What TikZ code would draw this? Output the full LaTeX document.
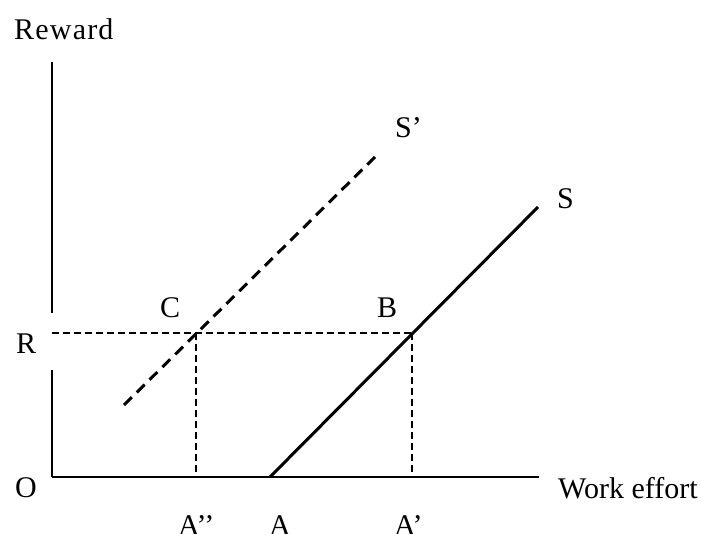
\documentclass[tikz,border=0pt]{standalone}
\usepackage{fontspec}
\setmainfont{Liberation Serif}
\begin{document}
\begin{tikzpicture}[x=1pt,y=-1pt,
  lbl/.style={anchor=base west,inner sep=0pt,font=\fontsize{30}{35}\selectfont},
  axisline/.style={line width=2pt},
  curve/.style={line width=3pt},
  guide/.style={line width=1.5pt,dash pattern=on 7pt off 4pt},
  shifted/.style={line width=3pt,dash pattern=on 11pt off 7pt}]
\useasboundingbox (0,0) rectangle (701,533);
% coordinates
\coordinate (O) at (52,477);
\coordinate (ytop) at (52,62);
\coordinate (ygapT) at (52,313);
\coordinate (ygapB) at (52,370);
\coordinate (xend) at (539,477);
\coordinate (A) at (270,477);
\coordinate (Send) at (538,207);
\coordinate (B) at (412,333);
\coordinate (C) at (196,333);
\coordinate (Rp) at (52,333);
\coordinate (App) at (196,477);
\coordinate (Ap) at (412,477);
\coordinate (Sp1) at (124,405);
\coordinate (Sp2) at (377,155);
% axes
\draw[axisline] (ytop) -- (ygapT);
\draw[axisline] (ygapB) -- (O);
\draw[axisline] (O) -- (xend);
% supply curves
\draw[curve] (A) -- (Send);
\draw[shifted] (Sp1) -- (Sp2);
% guides
\draw[guide] (Rp) -- (B);
\draw[guide] (C) -- (App);
\draw[guide] (B) -- (Ap);
% labels
\node[lbl,font=\fontsize{30}{35}\selectfont\addfontfeatures{LetterSpace=4}] (lreward) at (14,39) {Reward};
\node[lbl] (lsp) at (395,137) {S’};
\node[lbl] (ls) at (557,208) {S};
\node[lbl] (lc) at (160,317) {C};
\node[lbl] (lb) at (377,317) {B};
\node[lbl] (lr) at (16,353) {R};
\node[lbl] (lo) at (15,497) {O};
\node[lbl] (lwork) at (558,498) {Work effort};
\node[lbl] (lapp) at (178,535) {A’’};
\node[lbl] (la) at (269,535) {A};
\node[lbl] (lap) at (394,535) {A’};
\end{tikzpicture}
\end{document}
